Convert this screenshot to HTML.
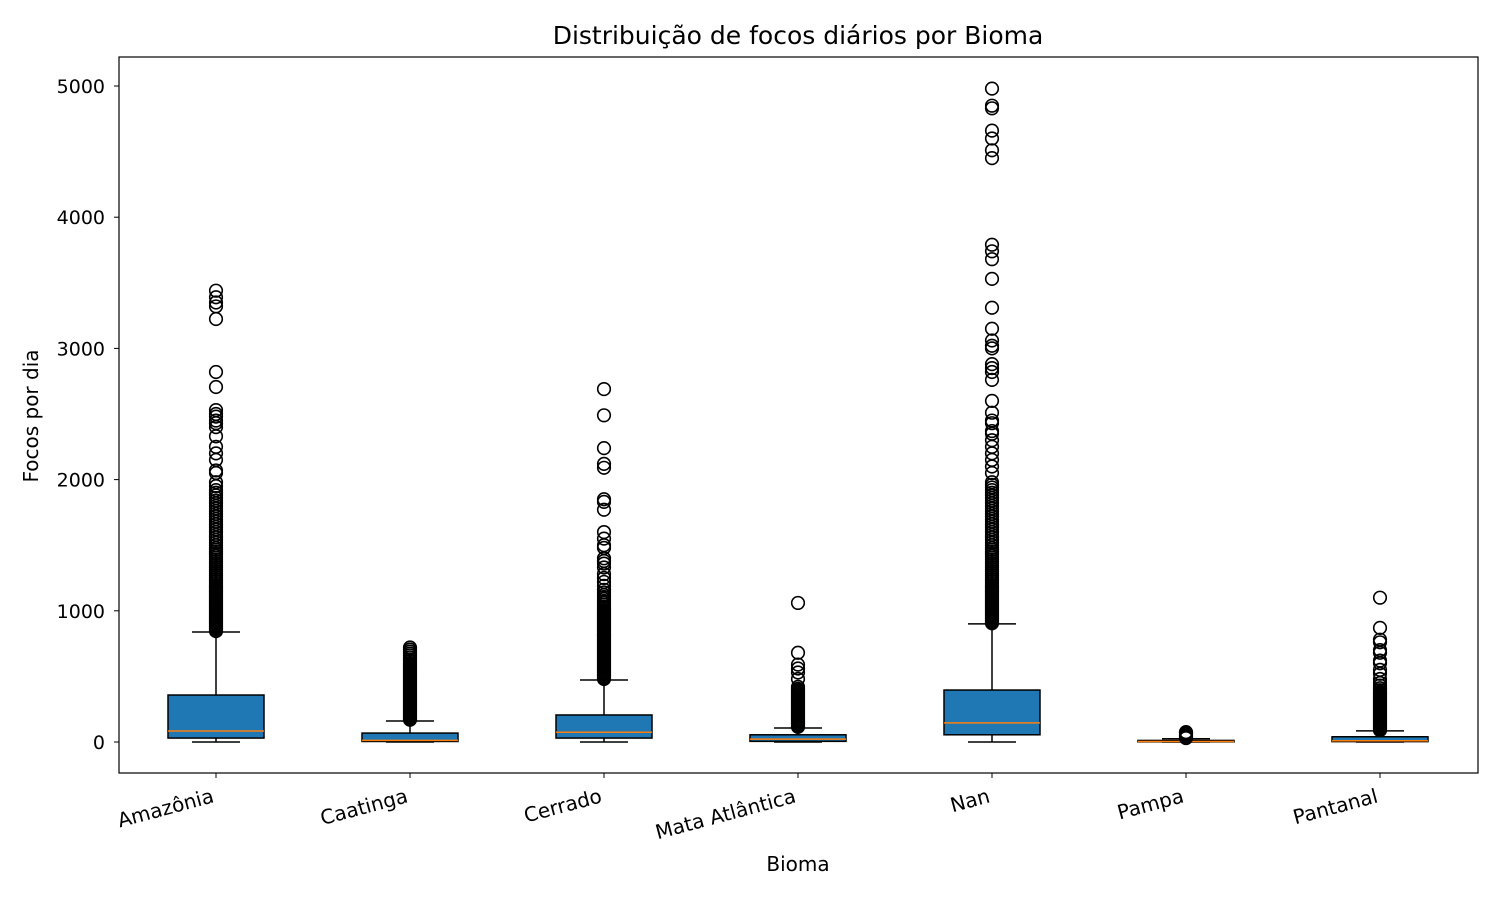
<!DOCTYPE html>
<html><head><meta charset="utf-8"><style>
html,body{margin:0;padding:0;background:#fff;}
svg{display:block;font-family:"DejaVu Sans","Liberation Sans",sans-serif;}
</style></head><body>
<svg id="chart" width="1500" height="900"></svg>
<script>
const categories=["Amazônia","Caatinga","Cerrado","Mata Atlântica","Nan","Pampa","Pantanal"];
const q1s=[30,4,30,5,55,1,3];
const medians=[84,12,74,22,146,4,10];
const q3s=[358,68,206,55,396,12,40];
const whiskLo=[0,0,0,0,0,0,0];
const whiskHi=[838,160,473,107,900,25,85];
const outAmazonia=[845,855,865,875,885,895,905,915,925,935,945,955,965,975,985,995,1005,1015,1025,1035,1045,1055,1065,1075,1085,1095,1105,1115,1125,1135,1145,1155,1165,1175,1185,1195,1210,1225,1240,1255,1270,1285,1300,1315,1330,1345,1360,1375,1390,1405,1420,1435,1450,1465,1480,1500,1520,1540,1560,1580,1600,1620,1640,1660,1680,1700,1720,1740,1760,1780,1800,1820,1840,1860,1880,1900,1920,1950,1980,2050,2070,2150,2200,2250,2330,2400,2430,2450,2480,2500,2530,2706,2820,3224,3320,3350,3390,3440];
const outCaatinga=[170,180,190,200,210,220,230,240,250,260,270,280,290,300,310,320,330,340,350,360,370,380,390,400,410,420,430,440,450,460,470,480,490,500,510,520,530,540,550,560,570,580,590,600,615,630,645,660,675,690,705,720];
const outCerrado=[480,490,500,510,520,530,540,550,560,570,580,590,600,610,620,630,640,650,660,670,680,690,700,710,720,730,740,750,760,770,780,790,800,810,820,830,840,850,860,870,880,890,900,910,920,930,940,950,960,970,980,990,1000,1015,1030,1045,1060,1075,1090,1105,1120,1140,1160,1190,1220,1250,1280,1330,1360,1380,1400,1480,1500,1550,1600,1770,1830,1850,2090,2120,2240,2490,2690];
const outMata=[115,125,135,145,155,165,175,185,195,205,215,225,235,245,255,265,275,285,295,305,315,325,335,345,355,365,375,385,395,405,420,480,530,560,590,680,1060];
const outNan=[905,915,925,935,945,955,965,975,985,995,1005,1015,1025,1035,1045,1055,1065,1075,1085,1095,1105,1115,1125,1135,1145,1155,1165,1175,1185,1195,1210,1225,1240,1255,1270,1285,1300,1315,1330,1345,1360,1375,1390,1405,1420,1435,1450,1465,1480,1500,1520,1540,1560,1580,1600,1620,1640,1660,1680,1700,1720,1740,1760,1780,1800,1820,1840,1860,1880,1900,1920,1940,1960,1980,2050,2100,2150,2200,2250,2300,2350,2370,2430,2450,2510,2600,2760,2820,2850,2880,3000,3020,3060,3150,3310,3530,3680,3740,3790,4450,4510,4600,4660,4830,4850,4980];
const outPampa=[30,40,50,60,70,75];
const outPantanal=[90,100,110,120,130,140,150,160,170,180,190,200,210,220,230,240,250,260,270,280,290,300,310,320,330,340,350,360,370,380,395,410,430,450,480,520,550,600,620,680,700,760,780,870,1100];
const outliers=[outAmazonia,outCaatinga,outCerrado,outMata,outNan,outPampa,outPantanal];
const yTicks=[0,1000,2000,3000,4000,5000];

const NS="http://www.w3.org/2000/svg";
const svg=document.getElementById("chart");
const L=119,R=1478,T=57,B=773;
const y=v=>742-v*0.1312;
const x=i=>216+i*194;
const bw=96;
function mk(tag,attrs,parent){const e=document.createElementNS(NS,tag);for(const k in attrs)e.setAttribute(k,attrs[k]);(parent||svg).appendChild(e);return e;}

categories.forEach((c,i)=>{
  const g=mk("g",{});
  
  
  const cx=x(i);
  mk("line",{x1:cx,x2:cx,y1:y(q3s[i]),y2:y(whiskHi[i]),stroke:"#000","stroke-width":1.5},g);
  mk("line",{x1:cx,x2:cx,y1:y(q1s[i]),y2:y(whiskLo[i]),stroke:"#000","stroke-width":1.5},g);
  mk("line",{x1:cx-24,x2:cx+24,y1:y(whiskHi[i]),y2:y(whiskHi[i]),stroke:"#000","stroke-width":1.5},g);
  mk("line",{x1:cx-24,x2:cx+24,y1:y(whiskLo[i]),y2:y(whiskLo[i]),stroke:"#000","stroke-width":1.5},g);
  mk("rect",{x:cx-bw/2,y:y(q3s[i]),width:bw,height:Math.max(1,y(q1s[i])-y(q3s[i])),fill:"#1f77b4",stroke:"#000","stroke-width":1.5},g);
  mk("line",{x1:cx-bw/2,x2:cx+bw/2,y1:y(medians[i]),y2:y(medians[i]),stroke:"#ff7f0e","stroke-width":1.5},g);
  outliers[i].forEach(v=>{
    const p=mk("circle",{cx:cx,cy:y(v),r:6.3,fill:"none",stroke:"#000","stroke-width":1.6},g);
    
    
  });
  mk("line",{x1:cx,x2:cx,y1:B,y2:B+5,stroke:"#000","stroke-width":1},g);
  const t=mk("text",{x:cx-1,y:B+29,"font-size":"20","text-anchor":"end",transform:`rotate(-15 ${cx-1} ${B+29})`,fill:"#000"});
  t.textContent=c;
  
  
});
yTicks.forEach(v=>{
  mk("line",{x1:L-5,x2:L,y1:y(v),y2:y(v),stroke:"#000","stroke-width":1});
  const t=mk("text",{x:L-14,y:y(v)+7,"font-size":"19","text-anchor":"end",fill:"#000"});
  t.textContent=v;
  
  
});
const fr=mk("rect",{x:L,y:T,width:R-L,height:B-T,fill:"none",stroke:"#000","stroke-width":1.2});


</script>
<svg style="position:absolute;left:0;top:0" width="1500" height="900">
<text x="798" y="44" font-size="25" text-anchor="middle" font-family="DejaVu Sans, Liberation Sans, sans-serif">Distribuição de focos diários por Bioma</text>
<text x="798" y="871" font-size="20" text-anchor="middle" font-family="DejaVu Sans, Liberation Sans, sans-serif">Bioma</text>
<text x="38" y="416" font-size="20" text-anchor="middle" transform="rotate(-90 38 416)" font-family="DejaVu Sans, Liberation Sans, sans-serif">Focos por dia</text>
</svg>
</body></html>
